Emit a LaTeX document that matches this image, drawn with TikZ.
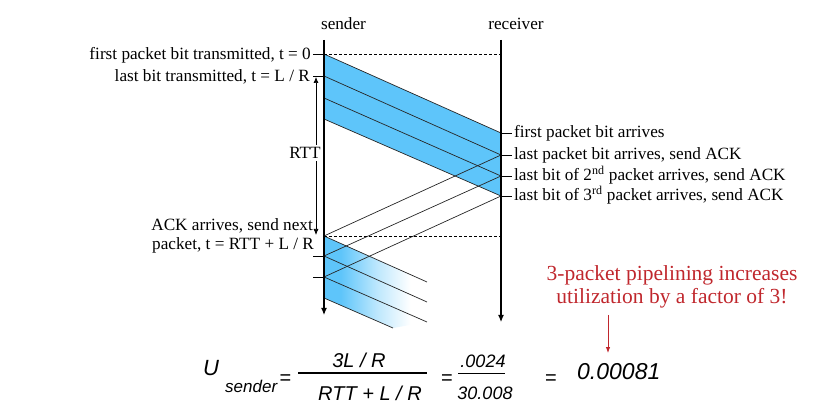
\documentclass[tikz,border=0pt]{standalone}
\usepackage{fontspec}
\setmainfont{Liberation Serif}
\setsansfont{Liberation Sans}
\usetikzlibrary{arrows.meta}
\definecolor{bandblue}{RGB}{94,197,250}
\definecolor{notered}{RGB}{192,39,45}
\pgfdeclarehorizontalshading{bandfade}{100bp}{color(0bp)=(bandblue); color(25bp)=(bandblue); color(33bp)=(bandblue); color(51bp)=(bandblue!40); color(67bp)=(white); color(100bp)=(white)}
\begin{document}
\begin{tikzpicture}[x=1pt,y=-1pt,
  lbl/.style={font=\fontsize{17.2}{20}\selectfont, inner sep=0pt},
  axisln/.style={line width=1.1pt, -{Latex[length=7pt,width=6pt]}},
  pkt/.style={line width=0.7pt, black!85},
  tickln/.style={line width=0.7pt},
  dashln/.style={line width=0.6pt, dash pattern=on 3pt off 2pt},
  eqtxt/.style={font=\sffamily\itshape\fontsize{20}{24}\selectfont, inner sep=0pt},
  eqsign/.style={font=\sffamily\fontsize{20}{24}\selectfont, inner sep=0pt},
]
\useasboundingbox (0,0) rectangle (840,411);

% time lines
\coordinate (s0) at (324,40); \coordinate (s1) at (324,315);
\coordinate (r0) at (501,40); \coordinate (r1) at (501,322);
% first window
\coordinate (sa) at (324,54);  \coordinate (sb) at (324,76);
\coordinate (sc) at (324,98);  \coordinate (sd) at (324,119);
\coordinate (ra) at (501,133); \coordinate (rb) at (501,155);
\coordinate (rc) at (501,176); \coordinate (rd) at (501,196);
\coordinate (rt) at (501,54);
% acks / second window
\coordinate (ka) at (324,236); \coordinate (kb) at (324,256);
\coordinate (kc) at (324,277); \coordinate (kd) at (324,298);
\coordinate (rk) at (501,236);
\coordinate (ea) at (427,282); \coordinate (eb) at (427,302);
\coordinate (ec) at (427,322); \coordinate (ed) at (393,328);

\fill[bandblue] (sa) -- (ra) -- (rd) -- (sd) -- cycle;
\shade[shading=bandfade]
  (ka) -- (ea) -- (ec) -- (ed) -- (kd) -- cycle;

\draw[pkt] (sa) -- (ra);
\draw[pkt] (sb) -- (rb);
\draw[pkt] (sc) -- (rc);
\draw[pkt] (sd) -- (rd);
\draw[pkt] (rb) -- (ka);
\draw[pkt] (rc) -- (kb);
\draw[pkt] (rd) -- (kc);
\draw[pkt] (ka) -- (ea);
\draw[pkt] (kb) -- (eb);
\draw[pkt] (kc) -- (ec);
\draw[pkt] (kd) -- (ed);
\draw[dashln] (sa) -- (rt);
\draw[dashln] (ka) -- (rk);

\draw[axisln] (s0) -- (s1);
\draw[axisln] (r0) -- (r1);

\foreach \c in {sa,sb,kb,kc} \draw[tickln] (\c) -- ++(-11,0);
\foreach \c in {ra,rb,rc,rd} \draw[tickln] (\c) -- ++(11,0);

% labels
\node[lbl, anchor=base] (snd) at (343.5,30) {sender};
\node[lbl, anchor=base] (rcv) at (516,30) {receiver};
\node[lbl, anchor=base east] (t0) at (311,60) {first packet bit transmitted, t = 0};
\node[lbl, anchor=base east] (tL) at (310,82) {last bit transmitted, t = L / R};
\node[lbl, anchor=base east] (ack1) at (313,231) {ACK arrives, send next};
\node[lbl, anchor=base west] (ack2) at (152,250) {packet, t = RTT + L / R};

\node[lbl, anchor=base west] (a1) at (514,138) {first packet bit arrives};
\node[lbl, anchor=base west] (a2) at (514,160) {last packet bit arrives, send ACK};
\node[lbl, anchor=base west] (a3) at (514,181) {last bit of 2\textsuperscript{nd} packet arrives, send ACK};
\node[lbl, anchor=base west] (a4) at (514,201) {last bit of 3\textsuperscript{rd} packet arrives, send ACK};

% RTT
\coordinate (rttT) at (316,77); \coordinate (rttB) at (316,235);
\draw[tickln, {Latex[length=6pt,width=5pt]}-{Latex[length=6pt,width=5pt]}] (rttT) -- (rttB);
\node[lbl, fill=white, inner sep=2pt] (rtt) at (305,153) {RTT};

% note
\node[font=\fontsize{21.5}{23}\selectfont, text=notered, align=center, inner sep=0pt] (note) at (672,287)
  {3-packet pipelining increases\\utilization by a factor of 3!};
\coordinate (nt) at (608,315); \coordinate (nb) at (608,353);
\draw[notered, line width=0.8pt, -{Latex[length=6pt,width=4.5pt]}] (nt) -- (nb);

% formula
\node[eqtxt, font=\sffamily\itshape\fontsize{22}{26}\selectfont, anchor=base west] (U) at (203,375) {U};
\node[eqtxt, font=\sffamily\itshape\fontsize{17}{20}\selectfont, anchor=base west] (Us) at (225,392) {sender};
\node[eqsign, anchor=base] (eq1) at (285.5,384) {=};
\coordinate (b1l) at (298,373); \coordinate (b1r) at (427,373);
\draw[line width=1.2pt] (b1l) -- (b1r);
\node[eqtxt, anchor=base] (num1) at (359,367) {3L / R};
\node[eqtxt, anchor=base] (den1) at (370,400) {RTT + L / R};
\node[eqsign, anchor=base] (eq2) at (447,384) {=};
\coordinate (b2l) at (458,373); \coordinate (b2r) at (505,373);
\draw[line width=1pt] (b2l) -- (b2r);
\node[eqtxt, font=\sffamily\itshape\fontsize{18}{22}\selectfont, anchor=base] (num2) at (483,367) {.0024};
\node[eqtxt, font=\sffamily\itshape\fontsize{18}{22}\selectfont, anchor=base] (den2) at (485,399) {30.008};
\node[eqsign, anchor=base] (eq3) at (551,384) {=};
\node[eqtxt, font=\sffamily\itshape\fontsize{23}{27}\selectfont, anchor=base west] (res) at (577,379) {0.00081};
\end{tikzpicture}
\end{document}
